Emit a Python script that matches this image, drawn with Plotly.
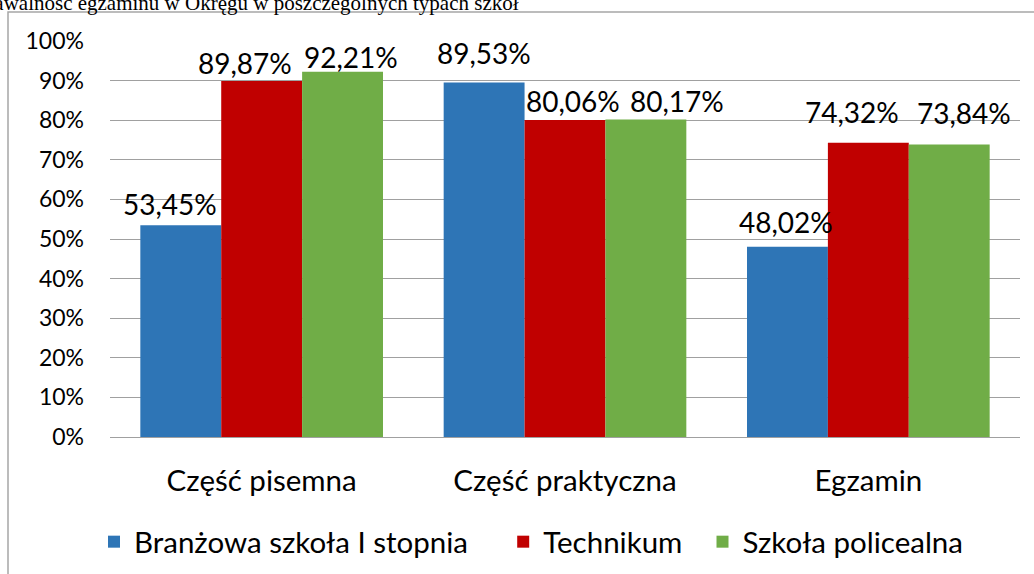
import plotly.graph_objects as go

categories = ["Część pisemna", "Część praktyczna", "Egzamin"]
series_names = ["Branżowa szkoła I stopnia", "Technikum", "Szkoła policealna"]
branzowa = [53.45, 89.53, 48.02]
technikum = [89.87, 80.06, 74.32]
policealna = [92.21, 80.17, 73.84]
series_values = [branzowa, technikum, policealna]
colors = ["#2E75B6", "#C00000", "#70AD47"]
y_ticks = [0, 10, 20, 30, 40, 50, 60, 70, 80, 90, 100]
y_tick_labels = ["0%", "10%", "20%", "30%", "40%", "50%", "60%", "70%", "80%", "90%", "100%"]
title_text = "Zdawalność egzaminu w Okręgu w poszczególnych typach szkół"

# label placement tweaks (px) relative to bar top centre: [series][category]
label_dx = [[-11, 0, -1], [-17, 8, -16], [8, 31, 15]]
label_dy = [[21, 29, 25], [18, 19, 31], [15, 19, 32]]

W, H = 1034, 574
ML, MR, MT, MB = 110, 14, 41, 137
BARGAP = 0.2
plot_w = W - ML - MR
plot_h = H - MT - MB
cat_px = plot_w / len(categories)
bar_px = cat_px * (1 - BARGAP) / len(series_names)

FONT = "Lato"
LEGEND_PAD = [4, 2, 0]  # non-breaking spaces appended for entry spacing

fig = go.Figure()
for i, (name, vals, col) in enumerate(zip(series_names, series_values, colors)):
    shown = name + "\u00a0" * LEGEND_PAD[i]
    fig.add_trace(go.Bar(x=categories, y=vals, name=shown, marker=dict(color=col, line=dict(width=0))))

annotations = []
for si, vals in enumerate(series_values):
    offset = (si - (len(series_names) - 1) / 2) * bar_px
    for ci, v in enumerate(vals):
        annotations.append(dict(
            x=categories[ci], y=v, xref="x", yref="y",
            text=f"{v:.2f}".replace(".", ",") + "%",
            showarrow=False, xanchor="center", yanchor="middle",
            xshift=offset + label_dx[si][ci], yshift=label_dy[si][ci],
            font=dict(family=FONT, size=28, color="#000000"),
        ))

def px_x(px):
    return (px - ML) / plot_w

def px_y(py):
    return (H - MB - py) / plot_h

annotations.append(dict(
    x=px_x(-31), y=px_y(3), xref="paper", yref="paper",
    text=title_text, showarrow=False, xanchor="left", yanchor="middle",
    font=dict(family="Liberation Serif", size=21, color="#000000"),
))

fig.update_layout(
    width=W, height=H,
    margin=dict(l=ML, r=MR, t=MT, b=MB, autoexpand=False),
    paper_bgcolor="white", plot_bgcolor="white",
    barmode="group", bargap=BARGAP, bargroupgap=0,
    showlegend=True,
    legend=dict(
        orientation="h", x=px_x(531), xanchor="center", y=px_y(542), yanchor="middle",
        font=dict(family=FONT, size=29.5, color="#000000"),
        itemwidth=30, traceorder="normal",
    ),
    annotations=annotations,
    shapes=[dict(
        type="rect", xref="paper", yref="paper",
        x0=px_x(8), y0=px_y(600), x1=px_x(1060), y1=px_y(12),
        line=dict(color="#a6a6a6", width=1.5), fillcolor="rgba(0,0,0,0)", layer="below",
    )],
)
fig.update_xaxes(
    showgrid=False, showline=True, linecolor="#a0a0a0", linewidth=1,
    tickfont=dict(family=FONT, size=29.5, color="#000000"), ticks="", ticklabelstandoff=18,
)
fig.update_yaxes(
    range=[0, 100], tickmode="array", tickvals=y_ticks, ticktext=y_tick_labels,
    showgrid=True, gridcolor="#a0a0a0", gridwidth=1, zeroline=False, showline=False,
    tickfont=dict(family=FONT, size=23, color="#000000"), ticks="", ticklabelstandoff=25,
)

fig.write_html("out.html", config={"displayModeBar": False},
               post_script="document.body.style.margin='0px';")
